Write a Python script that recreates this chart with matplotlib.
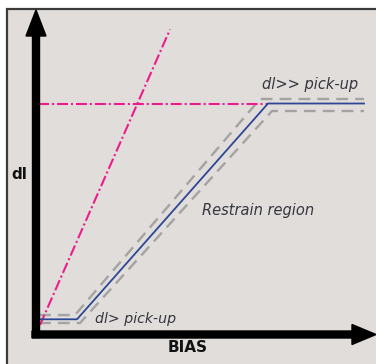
import matplotlib
matplotlib.use("Agg")
import matplotlib.pyplot as plt
from matplotlib.patches import Rectangle

# Characteristic data (BIAS vs dI), units arbitrary (chart units)
bias_main = [4, 41.5, 232.5, 328.5]
di_main = [15.2, 15.2, 231, 231]

bias_upper = [3.5, 39.5, 224.5, 328.5]
di_upper = [19.5, 19.5, 235.5, 235.5]

bias_lower = [3.5, 44.5, 236.5, 328.5]
di_lower = [11.5, 11.5, 223.5, 223.5]

bias_high_set = [2.5, 232.5]
di_high_set = [230.5, 230.5]

bias_diag = [4.5, 134.5]
di_diag = [9.5, 305.0]

label_low = "dl> pick-up"
label_high = "dl>> pick-up"
label_region = "Restrain region"
x_label = "BIAS"
y_label = "dl"

W, H = 376, 364
fig = plt.figure(figsize=(W / 100, H / 100), dpi=100)
fig.patch.set_facecolor("white")
ax = fig.add_axes([0, 0, 1, 1])
ox, oy = 35.5, 334.5
ax.set_xlim(-ox, W - ox)
ax.set_ylim(oy - H, oy)
ax.axis("off")

# panel
ax.add_patch(Rectangle((-29, -60), 420, 386, facecolor="#e1ddda",
                       edgecolor="#3a3a3a", lw=1.6, zorder=0))

# axes arrows
ax.arrow(0.5, -3, 0, 327.5, width=7, head_width=20, head_length=26,
         length_includes_head=True, color="black", zorder=5)
ax.arrow(-3.5, 0, 344, 0, width=7, head_width=20, head_length=24,
         length_includes_head=True, color="black", zorder=5)

gray = "#a3a3a3"
ax.plot(bias_upper, di_upper, color=gray, lw=1.7, dashes=(5, 3), zorder=2)
ax.plot(bias_lower, di_lower, color=gray, lw=1.7, dashes=(5, 3), zorder=2)

pink = "#ec1c8c"
ax.plot(bias_high_set, di_high_set, color=pink, lw=1.5,
        dashes=(5.3, 1.4, 1.0, 1.4), zorder=3)
ax.plot(bias_diag, di_diag, color=pink, lw=1.5,
        dashes=(5.3, 1.4, 1.0, 1.4), zorder=3)

ax.plot(bias_main, di_main, color="#2d4796", lw=1.3, zorder=4)

tc = "#35363f"
ax.text(59.5, 15.5, label_low, fontsize=10.2, style="italic", color=tc,
        va="center", ha="left")
ax.text(226.5, 249.5, label_high, fontsize=10.5, style="italic", color=tc,
        va="center", ha="left")
ax.text(166.5, 123.5, label_region, fontsize=10.5, style="italic", color=tc,
        va="center", ha="left")
ax.text(152, -13, x_label, fontsize=11, fontweight="bold", color="#111111",
        va="center", ha="center")
ax.text(-16.5, 160, y_label, fontsize=11, fontweight="bold", color="#111111",
        va="center", ha="center")

fig.savefig("out.png", dpi=100, facecolor="white")
